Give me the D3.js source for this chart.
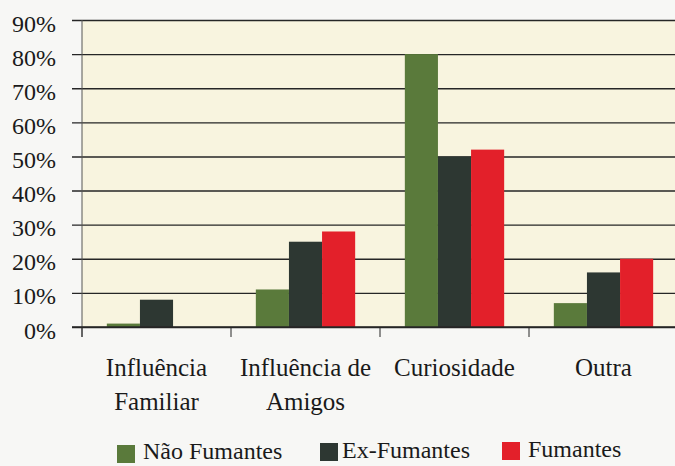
<!DOCTYPE html>
<html>
<head>
<meta charset="utf-8">
<script src="https://cdn.jsdelivr.net/npm/d3@7"></script>
<style>
  html, body { margin: 0; padding: 0; background: #f7f7f5; }
  svg { display: block; }
  text { font-family: "Liberation Serif", "Times New Roman", serif; fill: #1a1a1a; }
</style>
</head>
<body>
<svg id="chart" width="675" height="466"></svg>
<script>
// ---- data ----
const categories = ["Influência Familiar", "Influência de Amigos", "Curiosidade", "Outra"];
const seriesNames = ["Não Fumantes", "Ex-Fumantes", "Fumantes"];
const naoFumantes = [0.01, 0.11, 0.80, 0.07];
const exFumantes  = [0.08, 0.25, 0.50, 0.16];
const fumantes    = [0.00, 0.28, 0.52, 0.20];
const yTicks = [0, 0.1, 0.2, 0.3, 0.4, 0.5, 0.6, 0.7, 0.8, 0.9];
const colors = ["#5a7a3b", "#2d3732", "#e3202a"];

const seriesValues = [naoFumantes, exFumantes, fumantes];
const rows = categories.map((c, i) => ({
  cat: c,
  vals: seriesNames.map((s, j) => ({ series: s, value: seriesValues[j][i], idx: j }))
}));

const svg = d3.select("#chart");
const W = 675, H = 466;
const mLeft = 82, mRight = 678, mTop = 20, mBottom = 327;

svg.append("rect").attr("width", W).attr("height", H).attr("fill", "#f7f7f5");

const y = d3.scaleLinear().domain([0, 0.9]).range([mBottom, mTop]);
const x0 = d3.scaleBand().domain(categories).range([mLeft, mRight]).padding(0);
const x1 = d3.scaleBand().domain(seriesNames).range([0, x0.bandwidth()])
  .paddingInner(0).paddingOuter(0.75);

// plot background
svg.append("rect")
  .attr("x", mLeft).attr("y", y(0.9))
  .attr("width", mRight - mLeft).attr("height", y(0) - y(0.9))
  .attr("fill", "#f8f4df");

// gridlines + y labels via axis
const yAxis = d3.axisLeft(y).tickValues(yTicks).tickFormat(d3.format(".0%"))
  .tickSize(0).tickPadding(0);
const gy = svg.append("g").attr("transform", `translate(${mLeft - 10},0)`).call(yAxis);
gy.select(".domain").remove();
gy.selectAll(".tick line")
  .attr("x1", 0).attr("x2", mRight - mLeft + 10)
  .attr("stroke", "#262626").attr("stroke-width", 1.4);
gy.selectAll(".tick text")
  .attr("x", -16).attr("dy", null).attr("y", 11)
  .attr("text-anchor", "end")
  .style("font-family", "'Liberation Serif', serif")
  .style("font-size", "24px").attr("fill", "#1a1a1a");

// left axis line
svg.append("line")
  .attr("x1", mLeft).attr("x2", mLeft).attr("y1", y(0.9)).attr("y2", y(0) + 10)
  .attr("stroke", "#555").attr("stroke-width", 1);

// bars
const groups = svg.append("g").selectAll("g").data(rows).join("g")
  .attr("transform", d => `translate(${x0(d.cat)},0)`);
groups.selectAll("rect").data(d => d.vals).join("rect")
  .attr("x", d => x1(d.series))
  .attr("width", x1.bandwidth())
  .attr("y", d => y(d.value))
  .attr("height", d => y(0) - y(d.value))
  .attr("fill", d => colors[d.idx]);

// bottom axis
const xAxis = d3.axisBottom(x0).tickSize(0).tickFormat("");
const gx = svg.append("g").attr("transform", `translate(0,${y(0)})`).call(xAxis);
gx.select(".domain").attr("stroke", "#262626").attr("stroke-width", 1.4)
  .attr("d", `M${mLeft - 10},0H${mRight}`);
gx.selectAll(".tick").remove();
const bounds = categories.map(c => x0(c));
gx.selectAll("line.sep").data(bounds).join("line")
  .attr("class", "sep")
  .attr("x1", d => d).attr("x2", d => d).attr("y1", 0).attr("y2", 10)
  .attr("stroke", "#262626").attr("stroke-width", 1);

// category labels with wrapping
const labels = svg.append("g").selectAll("text").data(categories).join("text")
  .attr("x", d => x0(d) + x0.bandwidth() / 2)
  .attr("y", 376)
  .attr("text-anchor", "middle")
  .style("font-size", "25px");
labels.each(function(d) {
  const t = d3.select(this);
  const words = d.split(" ");
  const maxW = x0.bandwidth();
  let line = [];
  const lines = [];
  const probe = t.append("tspan");
  words.forEach(w => {
    const test = line.concat([w]).join(" ");
    probe.text(test);
    if (probe.node().getComputedTextLength() > maxW && line.length) {
      lines.push(line.join(" "));
      line = [w];
    } else {
      line.push(w);
    }
  });
  lines.push(line.join(" "));
  probe.remove();
  const cx = +t.attr("x");
  lines.forEach((l, i) => {
    t.append("tspan").attr("x", cx).attr("dy", i === 0 ? 0 : 34).text(l);
  });
});

// legend
const legendItems = [
  { name: seriesNames[0], sx: 117, sy: 445, tx: 143, ty: 459 },
  { name: seriesNames[1], sx: 320, sy: 443, tx: 342, ty: 458 },
  { name: seriesNames[2], sx: 502, sy: 442, tx: 528, ty: 457 }
];
const lg = svg.append("g").selectAll("g").data(legendItems).join("g");
lg.append("rect")
  .attr("x", d => d.sx).attr("y", d => d.sy)
  .attr("width", 18).attr("height", 18)
  .attr("fill", (d, i) => colors[i]);
lg.append("text")
  .attr("x", d => d.tx).attr("y", d => d.ty)
  .style("font-size", "24px")
  .text(d => d.name);
</script>
</body>
</html>
